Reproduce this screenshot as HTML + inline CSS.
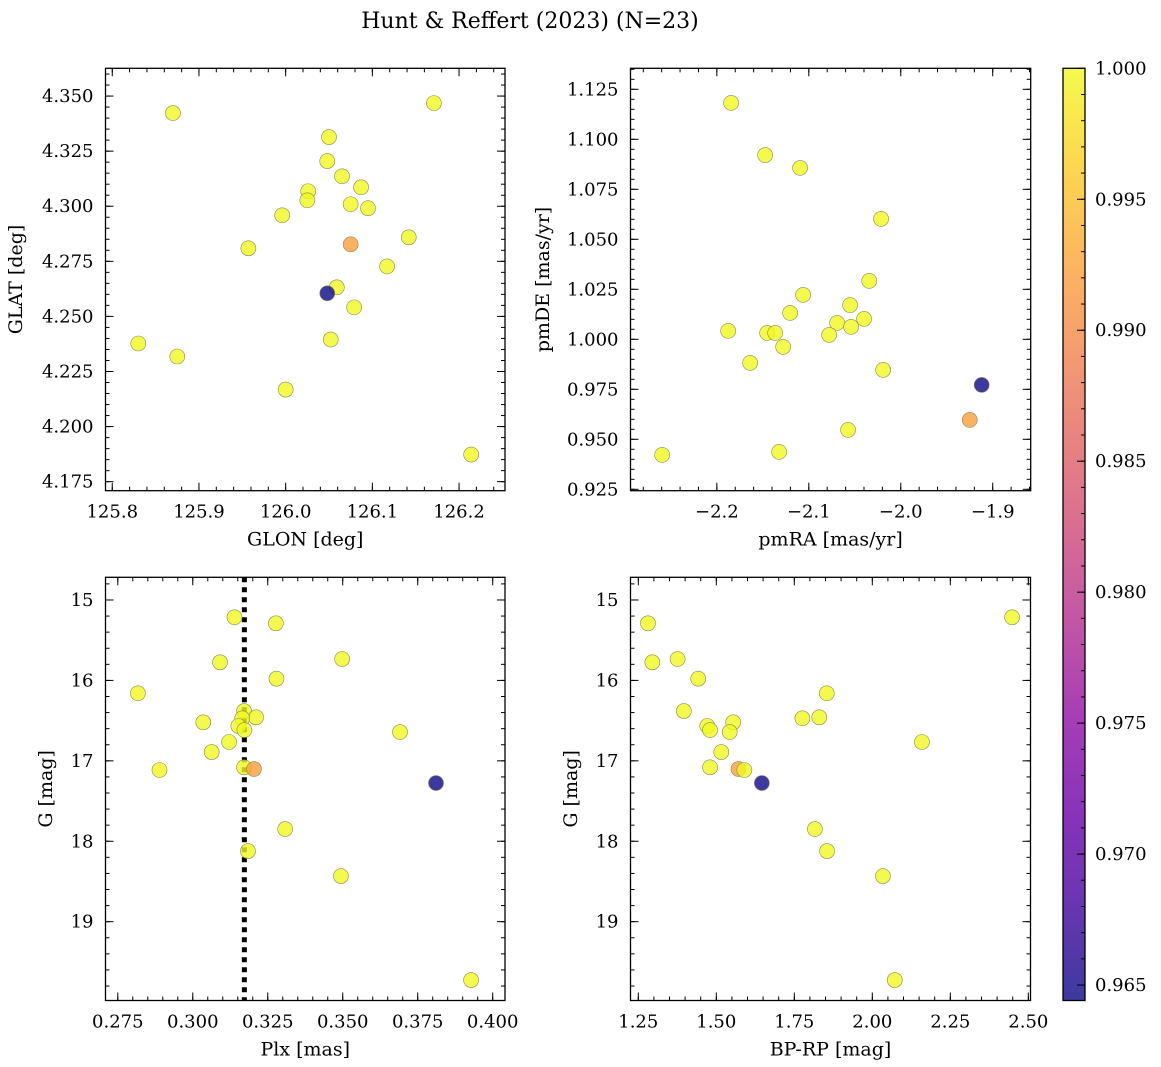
<!DOCTYPE html>
<html><head><meta charset="utf-8"><style>
html,body{margin:0;padding:0;background:#fff}
svg{display:block;font-family:"DejaVu Serif","Liberation Serif",serif}
</style></head><body>
<svg id="fig" width="1161" height="1067" viewBox="0 0 1161 1067" xmlns="http://www.w3.org/2000/svg">
<defs>
<linearGradient id="plasma" x1="0" y1="1" x2="0" y2="0">
<stop offset="0" stop-color="#0d0887"/><stop offset="0.1" stop-color="#41049d"/><stop offset="0.2" stop-color="#6a00a8"/><stop offset="0.3" stop-color="#8f0da4"/><stop offset="0.4" stop-color="#b12a90"/><stop offset="0.5" stop-color="#cc4778"/><stop offset="0.6" stop-color="#e16462"/><stop offset="0.7" stop-color="#f2844b"/><stop offset="0.8" stop-color="#fca636"/><stop offset="0.9" stop-color="#fcce25"/><stop offset="1" stop-color="#f0f921"/>
</linearGradient>
</defs>
<text x="530" y="28" font-size="22" text-anchor="middle">Hunt &amp; Reffert (2023) (N=23)</text>
</svg>
<script>
const glon=[125.870,126.171,126.050,126.048,126.065,126.026,126.087,126.025,126.075,126.095,125.996,126.142,125.957,126.117,126.059,126.079,126.075,126.052,126.048,125.830,125.875,126.000,126.214];
const glat=[4.3423,4.3468,4.3314,4.3205,4.3136,4.3068,4.3086,4.3027,4.3009,4.2991,4.2959,4.2859,4.2809,4.2727,4.2632,4.2541,4.2827,4.2395,4.2605,4.2377,4.2318,4.2168,4.1873];
const pmra=[-2.1845,-2.1475,-2.1095,-2.0214,-2.0343,-2.1062,-2.0551,-2.1203,-2.0692,-2.0399,-2.1877,-2.1453,-2.1366,-2.0540,-2.0779,-2.1279,-1.925,-2.1638,-1.912,-2.0192,-2.0573,-2.1323,-2.2595];
const pmde=[1.1182,1.0921,1.0857,1.0602,1.0292,1.0222,1.0171,1.0132,1.0082,1.0102,1.0042,1.0032,1.0032,1.0062,1.0022,0.9962,0.9597,0.9882,0.9772,0.9847,0.9547,0.9437,0.9422];
const plx=[0.3139,0.3277,0.3498,0.3091,0.3279,0.2817,0.3171,0.3211,0.3165,0.3035,0.3152,0.3172,0.3691,0.3121,0.3063,0.3171,0.3204,0.2889,0.3811,0.3308,0.3184,0.3494,0.3928];
const gmag=[15.215,15.290,15.734,15.775,15.979,16.160,16.381,16.459,16.471,16.521,16.567,16.617,16.642,16.766,16.891,17.081,17.102,17.114,17.276,17.848,18.122,18.433,19.726];
const bprp=[2.448,1.281,1.376,1.295,1.442,1.854,1.396,1.830,1.776,1.554,1.471,1.480,1.543,2.159,1.516,1.480,1.571,1.590,1.646,1.816,1.855,2.034,2.072];
const prob=[1,1,1,1,1,1,1,1,1,1,1,1,1,1,1,1,0.992,1,0.9644,1,1,1,1];
const plxRef=0.3172;
const cbTicks=[0.965,0.970,0.975,0.980,0.985,0.990,0.995,1.000];

const NS="http://www.w3.org/2000/svg";
const svg=document.getElementById('fig');
function mk(tag,attrs,parent){const e=document.createElementNS(NS,tag);for(const k in attrs)e.setAttribute(k,attrs[k]);(parent||svg).appendChild(e);return e;}
const VMIN=0.96441,VMAX=1.0;
const stops=[[13,8,135],[65,4,157],[106,0,168],[143,13,164],[177,42,144],[204,71,120],[225,100,98],[242,132,75],[252,166,54],[252,206,37],[240,249,33]];
function cmap(v){let t=(v-VMIN)/(VMAX-VMIN);t=Math.max(0,Math.min(1,t))*10;const i=Math.min(9,Math.floor(t)),f=t-i;const a=stops[i],b=stops[i+1];return 'rgb('+a.map((c,k)=>Math.round(c+(b[k]-c)*f)).join(',')+')';}
function fmtNum(v,d){const s=Math.abs(v).toFixed(d);return (v<-1e-9?'\u2212':'')+s;}

function panel(o){
  const g=mk('g',{});
  
  
  const sx=v=>o.x0+(v-o.xd[0])/(o.xd[1]-o.xd[0])*(o.x1-o.x0);
  const sy=v=>o.y1-(v-o.yd[0])/(o.yd[1]-o.yd[0])*(o.y1-o.y0);
  const syI=o.invert?(v=>o.y0+(v-o.yd[0])/(o.yd[1]-o.yd[0])*(o.y1-o.y0)):sy;
  const tg=mk('g',{stroke:'#000','stroke-width':1},g);
  
  
  const eps=1e-9;
  for(let v=Math.ceil(o.xd[0]/o.xminor-eps)*o.xminor;v<=o.xd[1]+eps;v+=o.xminor){const x=sx(v);mk('line',{x1:x,x2:x,y1:o.y1,y2:o.y1-4},tg);mk('line',{x1:x,x2:x,y1:o.y0,y2:o.y0+4},tg);}
  for(let v=Math.ceil(o.yd[0]/o.yminor-eps)*o.yminor;v<=o.yd[1]+eps;v+=o.yminor){const y=syI(v);mk('line',{x1:o.x0,x2:o.x0+4,y1:y,y2:y},tg);mk('line',{x1:o.x1,x2:o.x1-4,y1:y,y2:y},tg);}
  o.xticks.forEach(v=>{const x=sx(v);mk('line',{x1:x,x2:x,y1:o.y1,y2:o.y1-8},tg);mk('line',{x1:x,x2:x,y1:o.y0,y2:o.y0+8},tg);
    const t=mk('text',{x:x,y:o.y1+27,'font-size':18,'text-anchor':'middle'},g);t.textContent=fmtNum(v,o.xdec);
    });
  o.yticks.forEach(v=>{const y=syI(v);mk('line',{x1:o.x0,x2:o.x0+8,y1:y,y2:y},tg);mk('line',{x1:o.x1,x2:o.x1-8,y1:y,y2:y},tg);
    const t=mk('text',{x:o.x0-12,y:y+6,'font-size':18,'text-anchor':'end'},g);t.textContent=fmtNum(v,o.ydec);
    });
  if(o.vline!==undefined){const x=sx(o.vline);const l=mk('line',{x1:x,x2:x,y1:o.y0,y2:o.y1,stroke:'#000','stroke-width':5,'stroke-dasharray':'5,5'},g);
    }
  const pg=mk('g',{},g);
  
  
  o.xs.forEach((xv,i)=>{const c=mk('circle',{cx:sx(xv),cy:syI(o.ys[i]),r:7.5,fill:cmap(prob[i]),'fill-opacity':0.8,stroke:'#8a8a50','stroke-width':0.6},pg);
    });
  const fr=mk('rect',{x:o.x0,y:o.y0,width:o.x1-o.x0,height:o.y1-o.y0,fill:'none',stroke:'#000','stroke-width':1.3},g);
  
  const xl=mk('text',{x:(o.x0+o.x1)/2,y:o.y1+55,'font-size':19,'text-anchor':'middle'},g);xl.textContent=o.xlabel;
  
  const ycx=o.ylx,ycy=(o.y0+o.y1)/2;
  const yl=mk('text',{x:ycx,y:ycy,'font-size':19,'text-anchor':'middle',transform:'rotate(-90 '+ycx+' '+ycy+')'},g);yl.textContent=o.ylabel;
  
}
function rng(a,b,s){const r=[];for(let v=a;v<=b+s*1e-6;v+=s)r.push(Math.round(v/s)*s);return r;}

panel({name:'position-panel',x0:105.5,x1:505,y0:68.3,y1:490.7,xd:[125.7922,126.253],yd:[4.1709,4.3626],
  xticks:rng(125.8,126.2,0.1),yticks:rng(4.175,4.35,0.025),xminor:0.02,yminor:0.005,xdec:1,ydec:3,
  xs:glon,ys:glat,xlabel:'GLON [deg]',ylabel:'GLAT [deg]',ylx:22});
panel({name:'proper-motion-panel',x0:630.5,x1:1030.7,y0:68.3,y1:490.7,xd:[-2.2939,-1.8587],yd:[0.9243,1.1355],
  xticks:rng(-2.2,-1.9,0.1),yticks:rng(0.925,1.125,0.025),xminor:0.02,yminor:0.005,xdec:1,ydec:3,
  xs:pmra,ys:pmde,xlabel:'pmRA [mas/yr]',ylabel:'pmDE [mas/yr]',ylx:549});
panel({name:'parallax-panel',x0:105.5,x1:505,y0:577.3,y1:1000.5,xd:[0.2709,0.4041],yd:[14.718,19.98],invert:true,
  xticks:rng(0.275,0.4,0.025),yticks:rng(15,19,1),xminor:0.005,yminor:0.2,xdec:3,ydec:0,
  xs:plx,ys:gmag,xlabel:'Plx [mas]',ylabel:'G [mag]',ylx:52,vline:plxRef});
panel({name:'cmd-panel',x0:630.5,x1:1030.5,y0:577.3,y1:1000.5,xd:[1.225,2.507],yd:[14.718,19.98],invert:true,
  xticks:rng(1.25,2.5,0.25),yticks:rng(15,19,1),xminor:0.05,yminor:0.2,xdec:2,ydec:0,
  xs:bprp,ys:gmag,xlabel:'BP-RP [mag]',ylabel:'G [mag]',ylx:577});

(function(){
  const cx0=1063,cx1=1085,cy0=68.3,cy1=1000.5;
  const g=mk('g',{});
  
  
  const sy=v=>cy1-(v-VMIN)/(VMAX-VMIN)*(cy1-cy0);
  mk('rect',{x:cx0,y:cy0,width:cx1-cx0,height:cy1-cy0,fill:'url(#plasma)','fill-opacity':0.8},g);
  for(let k=965;k<=1000;k++){const y=sy(k/1000);mk('line',{x1:cx1,x2:cx1-4,y1:y,y2:y,stroke:'#000'},g);}
  cbTicks.forEach(v=>{const y=sy(v);mk('line',{x1:cx1,x2:cx1-8,y1:y,y2:y,stroke:'#000'},g);
    const t=mk('text',{x:cx1+10,y:y+6,'font-size':18},g);t.textContent=v.toFixed(3);
    });
  mk('rect',{x:cx0,y:cy0,width:cx1-cx0,height:cy1-cy0,fill:'none',stroke:'#000','stroke-width':1.3},g);
})();
</script>
</body></html>
